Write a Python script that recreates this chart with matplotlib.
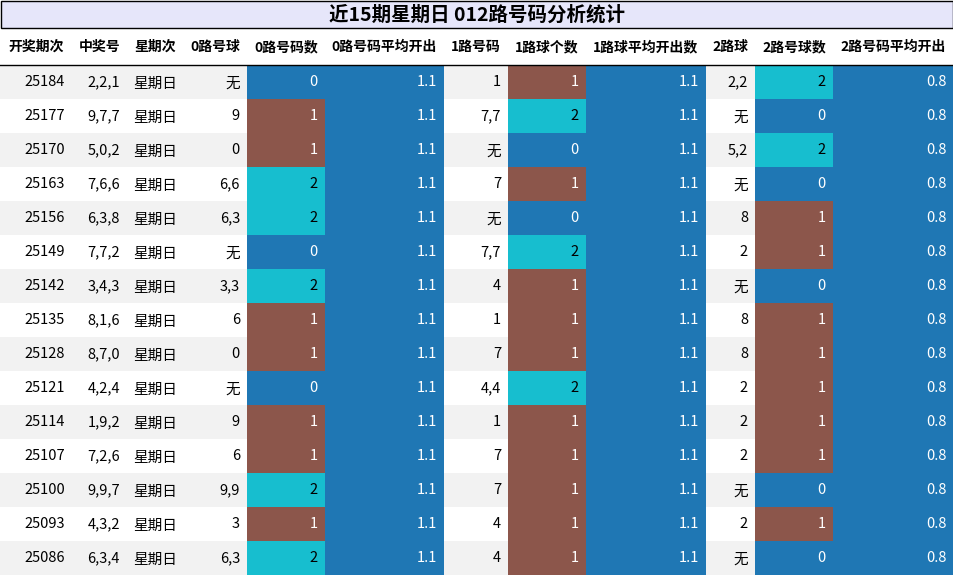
import matplotlib
matplotlib.use("Agg")
import matplotlib.pyplot as plt
from matplotlib.patches import Rectangle

plt.rcParams["font.family"] = ["Noto Sans CJK SC", "DejaVu Sans"]

title = "近15期星期日 012路号码分析统计"
headers = ["开奖期次", "中奖号", "星期次", "0路号球", "0路号码数", "0路号码平均开出",
           "1路号码", "1路球个数", "1路球平均开出数", "2路球", "2路号球数", "2路号码平均开出"]
periods = ["25184", "25177", "25170", "25163", "25156", "25149", "25142", "25135",
           "25128", "25121", "25114", "25107", "25100", "25093", "25086"]
numbers = ["2,2,1", "9,7,7", "5,0,2", "7,6,6", "6,3,8", "7,7,2", "3,4,3", "8,1,6",
           "8,7,0", "4,2,4", "1,9,2", "7,2,6", "9,9,7", "4,3,2", "6,3,4"]
weekday = ["星期日"] * 15
balls0 = ["无", "9", "0", "6,6", "6,3", "无", "3,3", "6", "0", "无", "9", "6", "9,9", "3", "6,3"]
count0 = [0, 1, 1, 2, 2, 0, 2, 1, 1, 0, 1, 1, 2, 1, 2]
avg0 = ["1.1"] * 15
balls1 = ["1", "7,7", "无", "7", "无", "7,7", "4", "1", "7", "4,4", "1", "7", "7", "4", "4"]
count1 = [1, 2, 0, 1, 0, 2, 1, 1, 1, 2, 1, 1, 1, 1, 1]
avg1 = ["1.1"] * 15
balls2 = ["2,2", "无", "5,2", "无", "8", "2", "无", "8", "8", "2", "2", "2", "无", "2", "无"]
count2 = [2, 0, 2, 0, 1, 1, 0, 1, 1, 1, 1, 1, 0, 1, 0]
avg2 = ["0.8"] * 15

W, H = 954, 576
fig = plt.figure(figsize=(W / 100, H / 100), dpi=100)
ax = fig.add_axes([0, 0, 1, 1])
ax.set_xlim(0, W); ax.set_ylim(H, 0); ax.axis("off")

edges = [0, 72, 127, 183, 247, 325, 444, 508, 586, 706, 755, 833, 954]
BLUE, BROWN, CYAN = "#1f77b4", "#8c564b", "#17becf"
cmap = {0: BLUE, 1: BROWN, 2: CYAN}

ax.add_patch(Rectangle((1, 1), W - 2, 27, facecolor="#e6e6fa", edgecolor="black", lw=1))
ax.text(W / 2, 15, title, ha="center", va="center", fontsize=14, fontweight="bold")

for i, h in enumerate(headers):
    ax.text((edges[i] + edges[i + 1]) / 2, 47, h, ha="center", va="center",
            fontsize=10, fontweight="bold")
ax.plot([0, W], [65, 65], color="black", lw=1)

cols = [periods, numbers, weekday, balls0, count0, avg0, balls1, count1, avg1, balls2, count2, avg2]
y0, rh = 65, 34
for r in range(15):
    top = y0 + r * rh
    if r % 2 == 0:
        ax.add_patch(Rectangle((0, top), W, rh, facecolor="#f2f2f2", lw=0))
    for c, col in enumerate(cols):
        x0, x1 = edges[c], edges[c + 1]
        v = col[r]
        color = "black"
        if c in (4, 7, 10):
            ax.add_patch(Rectangle((x0, top), x1 - x0, rh, facecolor=cmap[v], lw=0))
            color = "black" if v == 2 else "white"
        elif c in (5, 8, 11):
            ax.add_patch(Rectangle((x0, top), x1 - x0, rh, facecolor=BLUE, lw=0))
            color = "white"
        if c == 2:
            ax.text((x0 + x1) / 2, top + rh / 2 + 2, v, ha="center", va="center", fontsize=10.5, color=color)
        else:
            ax.text(x1 - 7, top + rh / 2 + (2 if v == "无" else 0), str(v), ha="right", va="center",
                    fontsize=10.5, color=color)

fig.savefig("out.png", dpi=100)
